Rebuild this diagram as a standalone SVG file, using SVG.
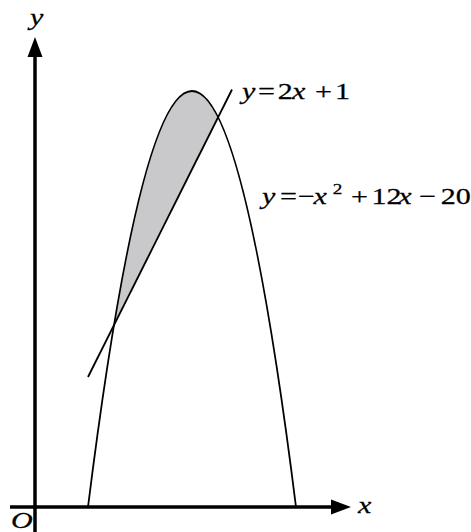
<svg xmlns="http://www.w3.org/2000/svg" width="471" height="532" viewBox="0 0 471 532">
<style>
.ax{stroke:#000;stroke-width:3.5;fill:none}
.cv{stroke:#000;stroke-width:1.8;fill:none}
.t{font-family:"Liberation Serif","Times New Roman",serif;font-size:23.5px;fill:#000;stroke:#000;stroke-width:0.25}
.i{font-style:italic}
</style>
<rect width="471" height="532" fill="#fff"/>
<g id="region">
<path d="M114,325 Q166,13 218,117 Z" fill="#c9c9cc" stroke="none"/>
</g>
<g id="axes">
<line class="ax" x1="35" y1="532" x2="35" y2="52"/>
<path d="M35,37 L42.5,57 L27.5,57 Z" fill="#000"/>
<line class="ax" x1="10" y1="507" x2="336" y2="507"/>
<path d="M351,507 L331,499.5 L331,514.5 Z" fill="#000"/>
</g>
<g id="curves">
<path class="cv" d="M88,507 Q192,-325 296,507"/>
<line class="cv" x1="88" y1="377" x2="232" y2="89.5"/>
</g>
<g id="labels">
<text class="t i" transform="translate(30,25) scale(1.28,1)">y</text>
<text class="t i" transform="translate(11,528) scale(1.28,1)">O</text>
<text class="t i" transform="translate(358,513) scale(1.28,1)">x</text>
<text class="t" transform="translate(242,99) scale(1.28,1)"><tspan class="i" x="0">y</tspan><tspan x="12.5">=</tspan><tspan x="28">2</tspan><tspan class="i" x="39">x</tspan><tspan x="57">+</tspan><tspan x="72.7">1</tspan></text>
<text class="t" transform="translate(262,204) scale(1.28,1)"><tspan class="i" x="0">y</tspan><tspan x="14">=</tspan><tspan x="28">−</tspan><tspan class="i" x="40.3">x</tspan><tspan x="55.2" y="-10" style="font-size:15px">2</tspan><tspan x="69.5" y="0">+</tspan><tspan x="85.5">12</tspan><tspan class="i" x="106.5">x</tspan><tspan x="122.6">−</tspan><tspan x="139.6">20</tspan></text>
</g>
</svg>
